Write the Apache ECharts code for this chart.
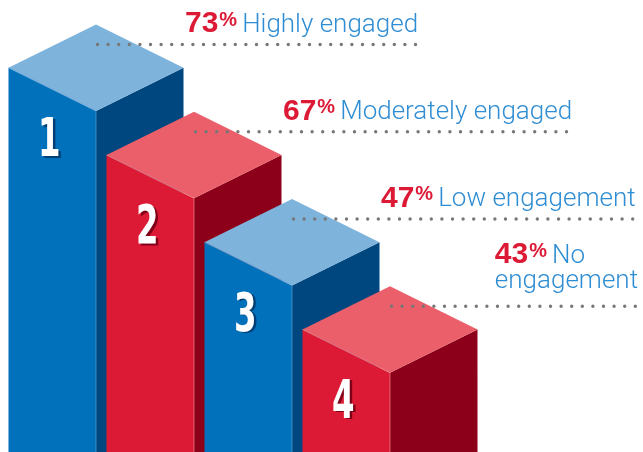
<!DOCTYPE html>
<html><head><meta charset="utf-8">
<script src="https://cdn.jsdelivr.net/npm/echarts@6/dist/echarts.min.js"></script>
<style>html,body{margin:0;padding:0;background:#fff}#c{width:643px;height:452px}</style>
</head><body><div id="c"></div>
<script>
// ---- data ----
const categories = ['1', '2', '3', '4'];
const stepLevels = [4, 3, 2, 1];          // stepped bar heights (rank)
const percents = [73, 67, 47, 43];
const descriptions = ['Highly engaged', 'Moderately engaged', 'Low engagement', 'No engagement'];

// ---- styles ----
const COLORS = [
  { front: '#0071BA', side: '#00467F', top: '#7EB3DC', shadow: '#003F75', edge: '#5d9fd3' },
  { front: '#DC1A35', side: '#8D0019', top: '#EA5F6A', shadow: '#800017', edge: '#ee8a92' }
];
const PCT_FONT = "'Liberation Sans', Arial, sans-serif";
const DESC_FONT = "Roboto, 'Liberation Sans', sans-serif";
const DIGIT_FONT = "'DejaVu Sans', 'Liberation Sans', sans-serif";
const PCT_SIZE = 30, SIGN_SIZE = 20, DESC_SIZE = 26, DESC_WEIGHT = 300;
const measureCtx = document.createElement('canvas').getContext('2d');
function tw(text, weight, size, family) {
  measureCtx.font = weight + ' ' + size + 'px ' + family;
  return measureCtx.measureText(text).width;
}
function geom(api) {
  const i = api.value(0), lv = api.value(1);
  const F = api.coord([i, lv]);
  const B = api.coord([i, 0]);
  const unit = api.size([1, 0])[0];
  const hw = unit * 0.893, dy = hw * 0.494;
  return { i, F, B, hw, dy };
}

function renderBars(params, api) {
  const { i, F, B, hw, dy } = geom(api);
  const c = COLORS[i % 2];
  const bottom = Math.max(B[1], api.getHeight());
  const x = F[0], y = F[1];
  const dx = x - hw / 2 - 3, dyy = y + 31;
  const digit = (fill, ox, oy) => ({
    type: 'text', x: dx + ox, y: dyy + oy, scaleX: 0.6,
    style: { text: categories[i], x: 0, y: 0, align: 'center', verticalAlign: 'middle', font: 'bold 54px ' + DIGIT_FONT, fill }
  });
  return {
    type: 'group',
    children: [
      { type: 'polygon', shape: { points: [[x - hw, y - dy], [x, y], [x, bottom], [x - hw, bottom]] }, style: { fill: c.front } },
      { type: 'polygon', shape: { points: [[x, y], [x + hw, y - dy], [x + hw, bottom], [x, bottom]] }, style: { fill: c.side } },
      { type: 'polygon', shape: { points: [[x - hw, y - dy], [x, y - 2 * dy], [x + hw, y - dy], [x, y]] }, style: { fill: c.top } },
      { type: 'polyline', shape: { points: [[x - hw, y - dy], [x, y], [x, bottom]] }, style: { stroke: c.edge, lineWidth: 0.7, fill: null } },
      digit(c.shadow, 2.5, 1.5),
      digit('#ffffff', 0, 0)
    ]
  };
}

function renderLabels(params, api) {
  const { i, F, hw, dy } = geom(api);
  const topX = F[0], topY = F[1] - 2 * dy;
  const lineY = topY + 20;
  const pct = String(percents[i]);
  const pw = tw(pct, 'bold', PCT_SIZE, PCT_FONT);
  const sw = tw('%', 'bold', SIGN_SIZE, PCT_FONT);
  const gap = 5;
  const desc = descriptions[i];
  const head = pw + 1 + sw + gap;
  const fullW = head + tw(desc, DESC_WEIGHT, DESC_SIZE, DESC_FONT);
  const maxRight = 638;
  let left = topX + 89;
  let lines, blockW, firstBase;
  if (left + fullW > maxRight) {
    const words = desc.split(' ');
    const l1 = words[0], l2 = words.slice(1).join(' ');
    const w1 = head + tw(l1, DESC_WEIGHT, DESC_SIZE, DESC_FONT);
    const w2 = tw(l2, DESC_WEIGHT, DESC_SIZE, DESC_FONT);
    blockW = Math.max(w1, w2);
    left = maxRight - blockW;
    firstBase = lineY - 16 - 25;
    lines = [l1, l2];
  } else {
    blockW = fullW;
    firstBase = lineY - 10;
    lines = [desc];
  }
  const mid = (base, size) => base - 0.35 * size;
  const digitTop = firstBase - 0.716 * PCT_SIZE;
  const signBase = digitTop + 0.72 * SIGN_SIZE;
  const children = [
    { type: 'line', shape: { x1: topX + 1.5, y1: lineY, x2: left + blockW, y2: lineY },
      style: { stroke: '#777777', lineWidth: 3.4, lineDash: [0, 10.6], lineCap: 'round' } },
    { type: 'text', style: { text: pct, x: left, y: mid(firstBase, PCT_SIZE), align: 'left', verticalAlign: 'middle', font: 'bold ' + PCT_SIZE + 'px ' + PCT_FONT, fill: '#DC1A35' } },
    { type: 'text', style: { text: '%', x: left + pw + 1, y: mid(signBase, SIGN_SIZE), align: 'left', verticalAlign: 'middle', font: 'bold ' + SIGN_SIZE + 'px ' + PCT_FONT, fill: '#DC1A35' } },
    { type: 'text', style: { text: lines[0], x: left + head, y: mid(firstBase, DESC_SIZE), align: 'left', verticalAlign: 'middle', font: DESC_WEIGHT + ' ' + DESC_SIZE + 'px ' + DESC_FONT, fill: '#2F8DD3' } }
  ];
  if (lines.length > 1) {
    children.push({ type: 'text', style: { text: lines[1], x: left, y: mid(firstBase + 25, DESC_SIZE), align: 'left', verticalAlign: 'middle', font: DESC_WEIGHT + ' ' + DESC_SIZE + 'px ' + DESC_FONT, fill: '#2F8DD3' } });
  }
  return { type: 'group', children };
}

const chart = echarts.init(document.getElementById('c'));
const seriesData = stepLevels.map((v, i) => [i, v]);
chart.setOption({
  animation: false,
  grid: { left: 96, right: 253, top: 111, bottom: 0 },
  xAxis: { type: 'value', min: 0, max: categories.length - 1, show: false },
  yAxis: { type: 'value', min: 0.0917, max: 4, show: false },
  series: [
    { type: 'custom', renderItem: renderBars, data: seriesData, z: 2, silent: true },
    { type: 'custom', renderItem: renderLabels, data: seriesData, z: 3, silent: true }
  ]
});
</script></body></html>
